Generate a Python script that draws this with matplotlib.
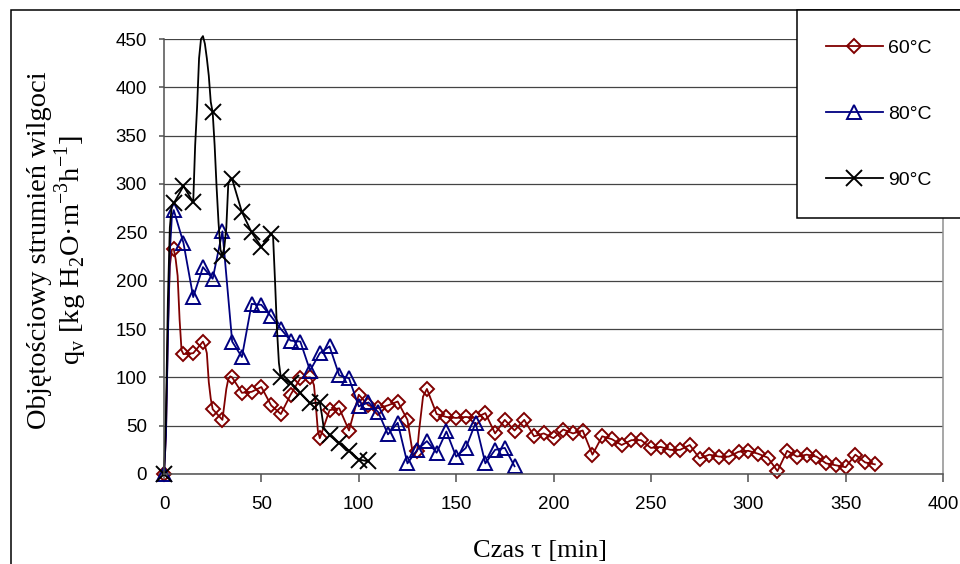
import matplotlib
matplotlib.use("Agg")
import matplotlib.pyplot as plt
from matplotlib.patches import Rectangle

# =======================================================
# data (time in min, flux in kg H2O m-3 h-1)

t60 = [0, 1, 2, 3, 4, 5, 6, 7, 8, 9, 10, 15, 20, 21, 22, 23, 24, 25, 30,
       31, 32, 33, 34, 35, 40, 45, 50, 55, 60, 65, 70, 75, 76, 77, 78, 79, 80,
       85, 90, 95, 100, 105, 110, 115, 120, 125, 128, 130, 131, 133, 135,
       140, 145, 150, 155, 160, 165, 170, 175, 180, 185, 190, 195, 200, 205,
       210, 215, 220, 225, 230, 235, 240, 245, 250, 255, 260, 265, 270, 275,
       280, 285, 290, 295, 300, 305, 310, 315, 320, 325, 330, 335, 340, 345,
       350, 355, 360, 365]
q60 = [0, 40, 150, 215, 232, 233, 222, 205, 160, 128, 124, 125, 137, 133, 125,
       95, 78, 67, 56, 72, 88, 98, 101, 100, 84, 85, 90, 71, 62, 82, 99, 100,
       97, 92, 70, 45, 37, 66, 68, 45, 82, 71, 68, 71, 75, 56, 18, 24, 45, 80,
       88, 62, 59, 58, 59, 58, 63, 42, 56, 45, 56, 39, 42, 37, 46, 42, 45, 20,
       39, 36, 30, 35, 35, 27, 28, 25, 25, 30, 16, 20, 18, 18, 23, 24, 21, 17,
       3, 24, 18, 20, 18, 11, 9, 7, 20, 12, 10]

t80 = [0, 1, 2, 3, 4, 5, 10, 15, 20, 25, 30, 35, 40, 45, 50, 55, 60, 65, 70,
       75, 80, 85, 90, 95, 100, 105, 110, 115, 120, 125, 130, 135, 140, 145,
       150, 155, 160, 165, 170, 175, 180]
q80 = [0, 40, 140, 230, 265, 273, 239, 183, 214, 202, 251, 137, 121, 176, 175,
       163, 150, 138, 137, 107, 125, 132, 102, 99, 70, 74, 64, 41, 53, 11, 25,
       34, 22, 44, 18, 27, 53, 11, 25, 27, 8]

t90 = [0, 1, 2, 3, 4, 5, 10, 15, 16, 17, 18, 19, 20, 21, 22, 23, 24, 25, 26,
       27, 28, 29, 30, 31, 32, 33, 34, 35, 40, 45, 50, 55, 56, 57, 58, 59, 60,
       65, 70, 75, 80, 81, 82, 85, 90, 95, 100, 105]
q90 = [0, 60, 180, 255, 278, 280, 298, 281, 340, 380, 430, 450, 453, 445, 430,
       412, 385, 374, 340, 297, 260, 232, 226, 235, 255, 300, 305, 305, 271,
       250, 235, 248, 246, 200, 150, 115, 100, 94, 84, 73, 74, 62, 48, 40, 32,
       24, 15, 13]
# the 90 C peak point carries no marker in the original
t90_nomark = [20]

labels = ['60°C', '80°C', '90°C']
x_ticks = list(range(0, 401, 50))
y_ticks = list(range(0, 451, 50))


def mark_idx(times, skip=()):
    # markers only on the 5-minute readings
    return [i for i, t in enumerate(times) if t % 5 == 0 and t not in skip]


W, H = 960, 564
fig = plt.figure(figsize=(9.6, 5.64), dpi=100)
ax = fig.add_axes([164 / W, 1 - 474 / H, (943 - 164) / W, (474 - 39) / H])

common = dict(lw=1.3, fillstyle='none', mew=1.4, clip_on=False)
h1, = ax.plot(t60, q60, color='#800000', marker='D', ms=7.3,
              markevery=mark_idx(t60), **common)
h2, = ax.plot(t80, q80, color='#000080', marker='^', ms=10.5,
              markevery=mark_idx(t80), **common)
h3, = ax.plot(t90, q90, color='black', marker='x', ms=11,
              markevery=mark_idx(t90, t90_nomark), **common)

ax.set_xlim(0, 400)
ax.set_ylim(0, 450)
ax.set_xticks(x_ticks)
ax.set_yticks(y_ticks)
ax.yaxis.grid(True, color='#444444', lw=0.9)
ax.set_axisbelow(True)

for s in ['left', 'bottom']:
    ax.spines[s].set_color('#505050')
    ax.spines[s].set_linewidth(1.1)
ax.spines['right'].set_color('#909090')
ax.spines['right'].set_linewidth(1.1)
ax.spines['top'].set_visible(False)

ax.tick_params(axis='x', direction='out', length=5.5, width=1.1,
               color='#505050', pad=10.5, labelsize=13.5)
ax.tick_params(axis='y', direction='out', length=3.6, width=1.1,
               color='#505050', pad=8.5, labelsize=13.5)
for lab in ax.get_xticklabels() + ax.get_yticklabels():
    lab.set_fontfamily('Liberation Sans')

serif = 'Liberation Serif'
fig.text(58 / W, 1 - 250 / H,
         'Objętościowy strumień wilgoci\n'
         'q$_\\mathregular{v}$ [kg H$_\\mathregular{2}$O·m$^\\mathregular{-3}$h$^\\mathregular{-1}$]',
         rotation=90, ha='center', va='center', fontsize=20.5,
         family=serif, linespacing=1.05)
fig.text(540 / W, 1 - 551 / H, 'Czas τ [min]', ha='center', va='center',
         fontsize=19, family=serif)

leg = fig.legend([h1, h2, h3], labels, loc='upper left',
                 bbox_to_anchor=(797 / W, 0, 0.3, 1 - 10 / H), mode='expand',
                 numpoints=1, fancybox=False, framealpha=1, edgecolor='black',
                 borderaxespad=0, borderpad=1.5, labelspacing=2.5,
                 handlelength=2.9, handletextpad=0.3,
                 prop={'family': 'Liberation Sans', 'size': 14})
leg.get_frame().set_linewidth(1.1)

# outer chart frame
fig.patches.append(Rectangle((11 / W, -0.1), 1.2, 1 - 10 / H + 0.1,
                             transform=fig.transFigure, fill=False,
                             edgecolor='black', lw=1.1))

fig.savefig('out.png', dpi=100)
